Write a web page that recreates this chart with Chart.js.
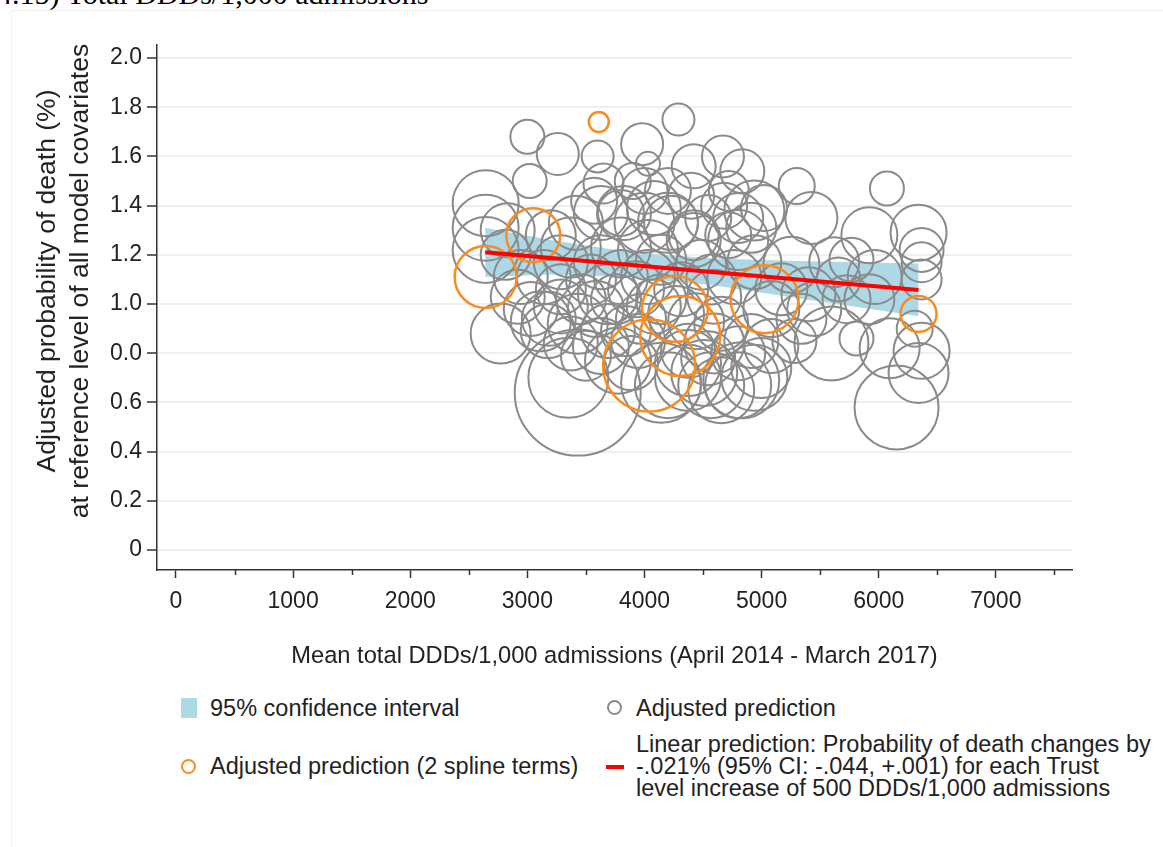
<!DOCTYPE html>
<html>
<head>
<meta charset="utf-8">
<script src="https://cdn.jsdelivr.net/npm/chart.js@4.4.1/dist/chart.umd.min.js"></script>
<style>
  body { margin: 0; width: 1163px; height: 847px; overflow: hidden; position: relative; background: #fff;
         font-family: 'Liberation Sans', Arial, sans-serif; color: #222; }
  .panel { position: absolute; left: 11px; top: 10px; right: -5px; bottom: -5px; border: 1px solid #f0f0f0; }
  .title { position: absolute; left: -3px; top: -21px; font: 30px 'Liberation Serif', 'Times New Roman', serif;
           line-height: 30px; white-space: nowrap; color: #000; }
  #wrap { position: absolute; left: 0; top: 0; width: 1163px; height: 680px; }
  .ytitle { position: absolute; left: -217px; top: 248px; width: 560px; height: 66px; line-height: 33px;
            font-size: 26.5px; text-align: center; transform: rotate(-90deg); white-space: nowrap; }
  .xtitle { position: absolute; left: 0; width: 1229px; top: 642px; text-align: center; font-size: 23.7px;
            line-height: 26px; white-space: nowrap; }
  .lg { position: absolute; font-size: 23.5px; line-height: 26px; white-space: nowrap; }
  .sq { position: absolute; left: 181px; top: 698px; width: 16px; height: 20px; background: #add8e6; }
  .dot { position: absolute; width: 11px; height: 11px; border-radius: 50%; border: 2px solid; }
  .dash { position: absolute; left: 606px; top: 765px; width: 18px; height: 4px; background: #ff0000; }
</style>
</head>
<body>
<div class="panel"></div>
<div class="title">4.15) Total DDDs/1,000 admissions</div>
<div id="wrap"><canvas id="chart"></canvas></div>
<div class="ytitle">Adjusted probability of death (%)<br>at reference level of all model covariates</div>
<div class="xtitle">Mean total DDDs/1,000 admissions (April 2014 - March 2017)</div>

<div class="sq"></div>
<div class="lg" style="left:210px; top:695px;">95% confidence interval</div>
<div class="dot" style="left:607px; top:700px; border-color:#8a8a8a;"></div>
<div class="lg" style="left:636px; top:695px;">Adjusted prediction</div>
<div class="dot" style="left:181px; top:759px; border-color:#fb8c1c;"></div>
<div class="lg" style="left:210px; top:753px;">Adjusted prediction (2 spline terms)</div>
<div class="dash"></div>
<div class="lg" style="left:636px; top:733px; line-height:22px;">Linear prediction: Probability of death changes by<br>-.021% (95% CI: -.044, +.001) for each Trust<br>level increase of 500 DDDs/1,000 admissions</div>

<script>
// tick values / labels
var xTicks = [0, 1000, 2000, 3000, 4000, 5000, 6000, 7000];
var xMinor = [500, 1500, 2500, 3500, 4500, 5500, 6500, 7500];
var yTicks = [0, 0.2, 0.4, 0.6, 0.8, 1.0, 1.2, 1.4, 1.6, 1.8, 2.0];
var yTickLabels = ['0', '0.2', '0.4', '0.6', '0.0', '1.0', '1.2', '1.4', '1.6', '1.8', '2.0'];

// adjusted prediction per Trust (grey bubbles)
var grayX = [3000, 3260, 3020, 3600, 3980, 4290, 4030, 3900, 3650, 4200, 4420, 4670, 4835, 4720, 4800, 5020,
  5300, 5425, 6070, 5920, 6340, 6366, 6366, 6366, 5620, 5656, 5965, 5400, 5596, 5810, 6093, 6340, 6152, 6307,
  6366, 5450, 5280, 2644, 2644, 2644, 2832, 2772, 3430, 3350, 3500, 3115, 3414, 3570, 3628, 3825, 4080, 4227,
  4544, 4800, 4420, 3371, 2918, 3029, 3183, 3286, 3430, 3628, 3688, 3945, 4142, 4372, 4510, 4655, 4826, 4912,
  4655, 4595, 4767, 4938, 4938, 3799, 4030, 4080, 4313, 3799, 4030, 3628, 3286, 3140, 2944, 3688, 3371, 3174,
  3885, 4372, 4595, 4200, 4372, 4570, 4800, 4938, 4800, 4544, 5083, 4398, 4000, 3799, 4200, 4000, 4912, 4715,
  4420, 4680, 5254, 5168, 5767, 5725, 5920, 5083, 5340, 3543, 3757, 3928, 4142, 4270, 4441, 3970, 3842, 3585,
  4142, 4484, 4570, 3457, 3286, 2815, 3200, 3774, 4997];
var grayY = [1.68, 1.61, 1.50, 1.60, 1.65, 1.75, 1.57, 1.50, 1.49, 1.46, 1.56, 1.60, 1.54, 1.46, 1.35, 1.39,
  1.48, 1.35, 1.47, 1.28, 1.29, 1.22, 1.17, 1.10, 1.17, 1.10, 1.11, 1.04, 0.84, 0.86, 0.82, 0.72, 0.58, 0.90,
  0.81, 0.98, 0.85, 1.41, 1.31, 1.22, 1.30, 0.88, 0.64, 0.70, 0.79, 0.93, 1.33, 1.42, 1.37, 1.37, 1.39, 1.33,
  1.35, 1.26, 1.26, 1.23, 1.03, 0.98, 0.94, 0.99, 0.92, 0.83, 1.04, 0.85, 0.68, 0.76, 0.72, 0.65, 0.69, 0.85,
  0.92, 1.03, 1.11, 1.17, 1.38, 1.11, 1.11, 0.99, 1.06, 1.23, 1.22, 1.17, 1.17, 1.11, 1.11, 0.89, 0.84, 0.89,
  0.76, 0.81, 0.84, 0.67, 0.70, 0.67, 0.67, 0.70, 0.80, 0.78, 0.83, 1.44, 1.46, 1.37, 1.33, 1.33, 1.31, 1.28,
  1.28, 1.40, 1.16, 1.06, 1.18, 1.02, 1.02, 0.98, 0.94, 1.10, 1.02, 1.06, 1.02, 0.96, 0.93, 0.94, 0.89, 0.98,
  1.18, 1.16, 1.10, 1.02, 1.06, 1.20, 1.28, 0.77, 0.74];
var graySize = [17, 21, 17, 16, 21, 16, 12, 18, 20, 23, 22, 21, 22, 20, 25, 23,
  18, 26, 17, 28, 28, 22, 20, 20, 25, 22, 27, 27, 37, 17, 30, 30, 42, 18,
  28, 27, 22, 33, 33, 33, 27, 30, 63, 40, 25, 30, 27, 23, 27, 27, 27, 27,
  23, 30, 27, 30, 27, 27, 27, 27, 30, 28, 30, 27, 40, 33, 33, 33, 38, 27,
  27, 27, 27, 27, 30, 27, 27, 27, 27, 30, 30, 27, 27, 27, 27, 27, 27, 27,
  27, 27, 30, 33, 33, 33, 33, 33, 27, 27, 27, 23, 23, 23, 30, 30, 25, 23,
  25, 23, 28, 26, 22, 24, 25, 28, 25, 25, 25, 28, 25, 28, 28, 25, 25, 28,
  25, 25, 25, 25, 25, 25, 25, 33, 30];

// adjusted prediction with 2 spline terms (orange bubbles)
var orangeX = [3610, 3050, 2644, 5025, 6340, 4260, 4305, 4040];
var orangeY = [1.74, 1.28, 1.11, 1.02, 0.96, 0.98, 0.87, 0.75];
var orangeSize = [10, 27, 31, 34, 18, 33, 40, 46];

// 95% confidence interval of the linear prediction
var bandX = [2640, 3200, 3900, 4600, 5300, 6340];
var bandUpper = [1.31, 1.26, 1.21, 1.185, 1.175, 1.165];
var bandLower = [1.11, 1.12, 1.11, 1.075, 1.025, 0.95];

// linear prediction
var lineX = [2640, 6340];
var lineY = [1.211, 1.057];

function pts(xs, ys) { return xs.map(function (x, i) { return { x: x, y: ys[i] }; }); }
function bubbles(xs, ys, rs) { return xs.map(function (x, i) { return { x: x, y: ys[i], r: rs[i] }; }); }

var axisColor = '#333';
var tickFont = { family: "'Liberation Sans', Arial, sans-serif", size: 23 };

var minorTicks = {
  id: 'minorTicks',
  afterDraw: function (chart) {
    var xs = chart.scales.x, ctx = chart.ctx;
    ctx.save();
    ctx.strokeStyle = axisColor;
    ctx.lineWidth = 1.5;
    xMinor.forEach(function (v) {
      var px = Math.round(xs.getPixelForValue(v)) + 0.5;
      ctx.beginPath();
      ctx.moveTo(px, xs.top);
      ctx.lineTo(px, xs.top + 5);
      ctx.stroke();
    });
    ctx.restore();
  }
};

new Chart(document.getElementById('chart'), {
  type: 'bubble',
  data: {
    datasets: [
      { type: 'line', data: pts(bandX, bandUpper), borderWidth: 0, pointRadius: 0, fill: '+1',
        backgroundColor: '#add8e6', order: 4 },
      { type: 'line', data: pts(bandX, bandLower), borderWidth: 0, pointRadius: 0, fill: false, order: 5 },
      { data: bubbles(grayX, grayY, graySize), backgroundColor: 'rgba(0,0,0,0)', borderColor: '#8a8a8a',
        borderWidth: 2, order: 3 },
      { data: bubbles(orangeX, orangeY, orangeSize), backgroundColor: 'rgba(0,0,0,0)', borderColor: '#fb8c1c',
        borderWidth: 2.5, order: 1 },
      { type: 'line', data: pts(lineX, lineY), borderColor: '#ff0000', borderWidth: 4, pointRadius: 0,
        fill: false, order: 0 }
    ]
  },
  options: {
    responsive: true,
    maintainAspectRatio: false,
    animation: false,
    events: [],
    layout: { autoPadding: false, padding: { left: 0, right: 91, top: 45, bottom: 0 } },
    plugins: { legend: { display: false }, tooltip: { enabled: false } },
    scales: {
      x: {
        type: 'linear', min: -162, max: 7650,
        afterBuildTicks: function (s) { s.ticks = xTicks.map(function (v) { return { value: v }; }); },
        afterFit: function (s) { s.height = 110; },
        grid: { drawOnChartArea: false, drawTicks: true, tickLength: 8, tickWidth: 1.5, tickColor: axisColor },
        border: { display: true, color: axisColor, width: 1.5 },
        ticks: { color: '#222', font: tickFont, padding: 10, maxRotation: 0, autoSkip: false,
                 callback: function (v) { return String(v); } }
      },
      y: {
        type: 'linear', min: -0.081, max: 2.053,
        afterBuildTicks: function (s) { s.ticks = yTicks.map(function (v) { return { value: v }; }); },
        afterFit: function (s) { s.width = 157; },
        grid: { color: '#e9f1f3', lineWidth: 2, drawTicks: true, tickLength: 10, tickWidth: 1.5, tickColor: axisColor },
        border: { display: true, color: axisColor, width: 1.5 },
        ticks: {
          color: '#222', font: tickFont, padding: 5, autoSkip: false,
          callback: function (v) {
            var i = yTicks.findIndex(function (t) { return Math.abs(t - v) < 1e-6; });
            return i >= 0 ? yTickLabels[i] : '';
          }
        }
      }
    }
  },
  plugins: [minorTicks]
});
</script>
</body>
</html>
